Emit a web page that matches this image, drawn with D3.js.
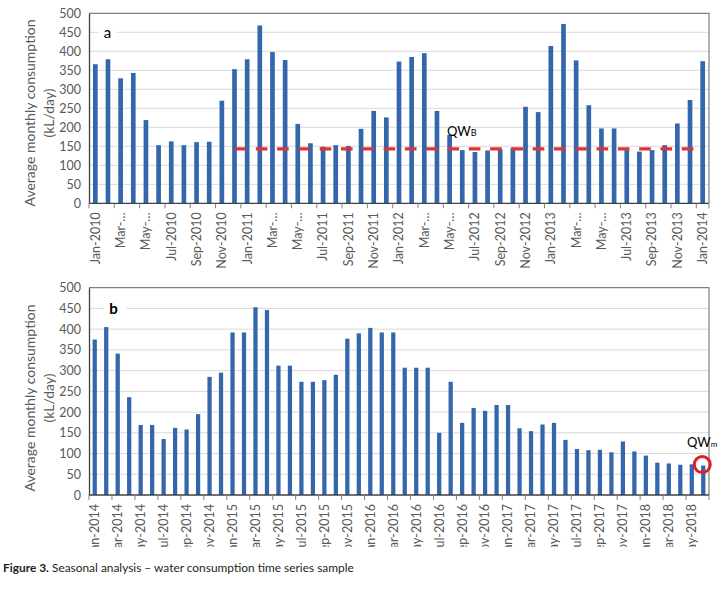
<!DOCTYPE html>
<html><head><meta charset="utf-8">
<script src="https://cdn.jsdelivr.net/npm/d3@7"></script>
<style>body{margin:0;background:#fff}svg{display:block;font-family:Lato,"Open Sans",sans-serif}</style>
</head><body><svg id="c" width="723" height="590"></svg>
<script>
// ---------- Panel a data (Jan-2010 .. Jan-2014) ----------
const catsA = ["Jan-2010","Feb-2010","Mar-2010","Apr-2010","May-2010","Jun-2010","Jul-2010","Aug-2010","Sep-2010","Oct-2010","Nov-2010","Dec-2010",
"Jan-2011","Feb-2011","Mar-2011","Apr-2011","May-2011","Jun-2011","Jul-2011","Aug-2011","Sep-2011","Oct-2011","Nov-2011","Dec-2011",
"Jan-2012","Feb-2012","Mar-2012","Apr-2012","May-2012","Jun-2012","Jul-2012","Aug-2012","Sep-2012","Oct-2012","Nov-2012","Dec-2012",
"Jan-2013","Feb-2013","Mar-2013","Apr-2013","May-2013","Jun-2013","Jul-2013","Aug-2013","Sep-2013","Oct-2013","Nov-2013","Dec-2013",
"Jan-2014"];
const valsA = [366,379,329,343,219,153,163,153,161,162,270,353,
379,468,398,377,209,158,149,153,151,196,243,226,
373,385,395,243,180,140,135,139,142,146,254,240,
414,472,376,258,197,197,140,136,140,153,210,272,
374];
const tickLabelsA = ["Jan-2010","Mar-…","May-…","Jul-2010","Sep-2010","Nov-2010","Jan-2011","Mar-…","May-…","Jul-2011","Sep-2011","Nov-2011",
"Jan-2012","Mar-…","May-…","Jul-2012","Sep-2012","Nov-2012","Jan-2013","Mar-…","May-…","Jul-2013","Sep-2013","Nov-2013","Jan-2014"];
const qwbValue = 143, qwbFrom = "Dec-2010", qwbTo = "Dec-2013";

// ---------- Panel b data (Jan-2014 .. Jun-2018) ----------
const catsB = ["Jan-2014","Feb-2014","Mar-2014","Apr-2014","May-2014","Jun-2014","Jul-2014","Aug-2014","Sep-2014","Oct-2014","Nov-2014","Dec-2014",
"Jan-2015","Feb-2015","Mar-2015","Apr-2015","May-2015","Jun-2015","Jul-2015","Aug-2015","Sep-2015","Oct-2015","Nov-2015","Dec-2015",
"Jan-2016","Feb-2016","Mar-2016","Apr-2016","May-2016","Jun-2016","Jul-2016","Aug-2016","Sep-2016","Oct-2016","Nov-2016","Dec-2016",
"Jan-2017","Feb-2017","Mar-2017","Apr-2017","May-2017","Jun-2017","Jul-2017","Aug-2017","Sep-2017","Oct-2017","Nov-2017","Dec-2017",
"Jan-2018","Feb-2018","Mar-2018","Apr-2018","May-2018","Jun-2018"];
const valsB = [375,405,341,236,169,169,135,162,158,195,285,295,
392,392,453,446,312,312,273,273,277,290,377,390,
403,392,392,307,307,307,150,273,174,210,203,217,
217,161,154,170,174,133,111,108,109,103,129,105,
95,78,76,73,74,71];
const tickLabelsB = ["Jan-2014","Mar-2014","May-2014","Jul-2014","Sep-2014","Nov-2014","Jan-2015","Mar-2015","May-2015","Jul-2015","Sep-2015","Nov-2015",
"Jan-2016","Mar-2016","May-2016","Jul-2016","Sep-2016","Nov-2016","Jan-2017","Mar-2017","May-2017","Jul-2017","Sep-2017","Nov-2017",
"Jan-2018","Mar-2018","May-2018"];
const qwmCat = "Jun-2018";

const yTicks = [0,50,100,150,200,250,300,350,400,450,500];

const BAR = "#3366aa", GRID = "#d9d9d9", AXIS = "#595959", TXT = "#595959", RED = "#e03333";
const svg = d3.select("#c");
const defs = svg.append("defs");

function panel(o){
  const g = svg.append("g");
  const x = d3.scaleBand().domain(o.cats).range([o.left, o.right]);
  const y = d3.scaleLinear().domain([0,500]).range([o.bottom, o.top]);
  const cx = c => x(c) + x.bandwidth()/2;

  g.selectAll("line.grid").data(yTicks.filter(v => v > 0 && v < 500)).join("line")
    .attr("x1", o.left).attr("x2", o.right).attr("y1", d => y(d)).attr("y2", d => y(d))
    .attr("stroke", GRID).attr("stroke-width", 1);

  g.append("path").attr("d", `M${o.left},${y(500)}H${o.right}V${y(0)}`)
    .attr("fill", "none").attr("stroke", "#7f7f7f").attr("stroke-width", 1.2);

  const ly = y(450);
  g.append("rect").attr("x", o.letterX - 9).attr("y", ly - 9).attr("width", 18 + o.letterExtra).attr("height", 18).attr("fill", "#fff");
  g.append("text").attr("x", o.letterX).attr("y", ly).attr("dy", "0.35em").attr("text-anchor", "middle")
    .attr("font-size", 15).attr("font-weight", o.letterWeight).attr("fill", "#000").text(o.letter);

  const bw = x.bandwidth() * 0.37;
  g.selectAll("rect.bar").data(o.vals).join("rect").attr("class", "bar")
    .attr("x", (d, i) => cx(o.cats[i]) - bw/2).attr("y", d => y(d))
    .attr("width", bw).attr("height", d => y(0) - y(d)).attr("fill", BAR);

  const ya = g.append("g").attr("transform", `translate(${o.left},0)`)
    .call(d3.axisLeft(y).tickValues(yTicks).tickSize(0).tickPadding(8));
  ya.select(".domain").attr("stroke", "#404040").attr("stroke-width", 1.3);
  ya.selectAll("text").attr("font-size", 12.5).attr("fill", TXT).attr("font-family", "Lato");

  g.append("line").attr("x1", o.left).attr("x2", o.right).attr("y1", y(0)).attr("y2", y(0))
    .attr("stroke", "#404040").attr("stroke-width", 1.3);
  const tpos = o.cats.filter((c, i) => i % 2 === 0).map(c => x(c)).concat([o.right]);
  g.selectAll("line.xt").data(tpos).join("line")
    .attr("x1", d => d).attr("x2", d => d).attr("y1", y(0)).attr("y2", y(0) + 5)
    .attr("stroke", "#808080").attr("stroke-width", 1);

  const lg = g.append("g");
  if (o.clip) {
    defs.append("clipPath").attr("id", "clip" + o.letter).append("rect")
      .attr("x", 0).attr("y", 0).attr("width", 723).attr("height", o.clip);
    lg.attr("clip-path", `url(#clip${o.letter})`);
  }
  lg.selectAll("text").data(o.ticks).join("text")
    .attr("transform", (d, i) => `translate(${cx(o.cats[i*2])},${y(0) + 9}) rotate(-90)`)
    .attr("text-anchor", "end").attr("dy", "0.35em")
    .attr("font-size", 12.5).attr("fill", TXT).text(d => d);

  const tt = g.append("g").attr("transform", `translate(0,${o.titleY})`);
  tt.append("text").attr("transform", "translate(30.5,0) rotate(-90)").attr("text-anchor", "middle")
    .attr("dy", "0.35em").attr("font-size", 14).attr("fill", TXT).text("Average monthly consumption");
  tt.append("text").attr("transform", "translate(49.5,0) rotate(-90)").attr("text-anchor", "middle")
    .attr("dy", "0.35em").attr("font-size", 14).attr("fill", TXT).text("(kL/day)");

  return {x, y, cx, g};
}

// ----- Panel a -----
const A = panel({cats: catsA, vals: valsA, ticks: tickLabelsA, left: 89, right: 709, top: 13.3, bottom: 203.3,
  letter: "a", letterX: 107.5, letterExtra: 0, letterWeight: 400, titleY: 113});
A.g.append("line")
  .attr("x1", A.cx(qwbFrom)).attr("x2", A.cx(qwbTo) + 3.5)
  .attr("y1", A.y(qwbValue)).attr("y2", A.y(qwbValue))
  .attr("stroke", RED).attr("stroke-width", 3.2).attr("stroke-dasharray", "11.6,9.7");
const qb = A.g.append("text").attr("x", 447).attr("y", 135.5).attr("font-size", 13).attr("fill", "#000");
qb.append("tspan").text("QW");
qb.append("tspan").attr("font-size", 9).text("B");

// ----- Panel b -----
const B = panel({cats: catsB, vals: valsB, ticks: tickLabelsB, left: 89, right: 709, top: 287.7, bottom: 495,
  letter: "b", letterX: 113.5, letterExtra: 4, letterWeight: 700, titleY: 398, clip: 547});
const lastV = valsB[catsB.indexOf(qwmCat)];
B.g.append("circle").attr("cx", B.cx(qwmCat) - 1).attr("cy", B.y(lastV) - 1).attr("r", 8)
  .attr("fill", "none").attr("stroke", "#e02020").attr("stroke-width", 3);
const qm = B.g.append("text").attr("x", 687).attr("y", 447).attr("font-size", 13).attr("fill", "#000");
qm.append("tspan").text("QW");
qm.append("tspan").attr("font-size", 8).text("m");

// ----- caption -----
const cap = svg.append("text").attr("x", 3).attr("y", 572).attr("font-size", 11.9).attr("fill", "#231f20");
cap.append("tspan").attr("font-weight", 700).text("Figure 3.");
cap.append("tspan").text(" Seasonal analysis – water consumption time series sample");
</script></body></html>
